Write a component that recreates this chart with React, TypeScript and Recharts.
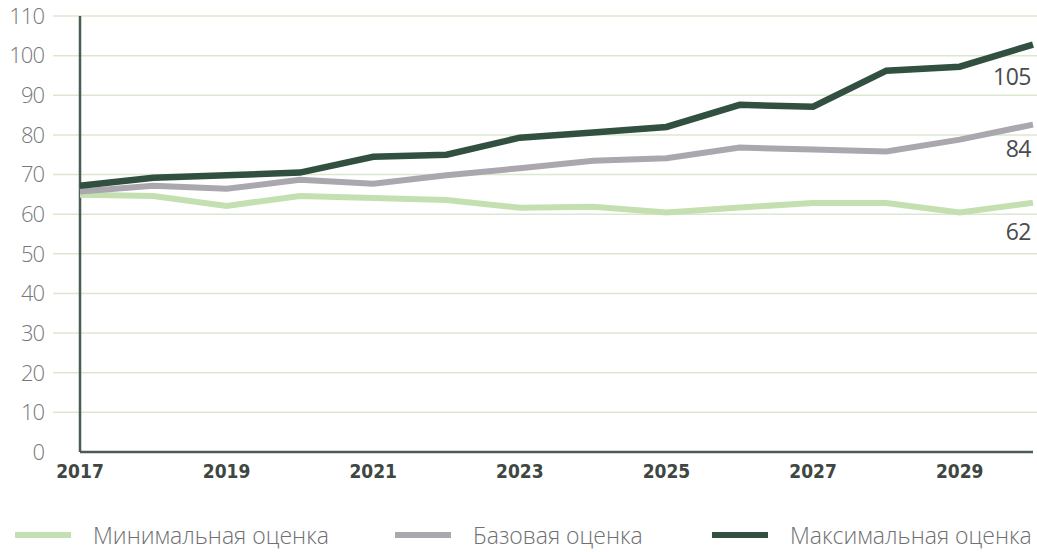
import React from 'react'
import { LineChart, Line, XAxis, YAxis, CartesianGrid, ReferenceLine, LabelList } from 'recharts'

const years = [2017, 2018, 2019, 2020, 2021, 2022, 2023, 2024, 2025, 2026, 2027, 2028, 2029, 2030]
const minimal = [64.9, 64.6, 62.1, 64.6, 64.1, 63.6, 61.6, 61.9, 60.4, 61.7, 62.8, 62.8, 60.4, 62.9]
const base = [65.7, 67.2, 66.4, 68.7, 67.7, 69.8, 71.6, 73.5, 74.1, 76.8, 76.3, 75.8, 78.8, 82.6]
const maximal = [67.2, 69.2, 69.8, 70.5, 74.5, 75.0, 79.3, 80.6, 82.0, 87.6, 87.1, 96.2, 97.2, 102.8]

const xTicks = [2017, 2019, 2021, 2023, 2025, 2027, 2029]
const yTicks = [0, 10, 20, 30, 40, 50, 60, 70, 80, 90, 100, 110]
const gridValues = [10, 20, 30, 40, 50, 60, 70, 80, 90, 100, 110]

const seriesNames = ['Минимальная оценка', 'Базовая оценка', 'Максимальная оценка']
const endLabels = ['62', '84', '105']

const data = years.map((year, i) => ({
  year,
  minimal: minimal[i],
  base: base[i],
  maximal: maximal[i],
}))

const colors = ['#c4e0b1', '#aaa7ae', '#31503f']
const keys = ['minimal', 'base', 'maximal']
const labelDy = [37, 32, 40]
const legendLeft = [15, 395, 712]

const lightFont = '"Open Sans", sans-serif'

function endLabel(text: string, dy: number) {
  return (props: any) => {
    if (props.index !== years.length - 1) return null
    return (
      <text
        x={Number(props.x) - 2}
        y={Number(props.y) + dy}
        textAnchor="end"
        fill="#4a4b4d"
        fontSize={23}
        fontFamily={lightFont}
        letterSpacing={-0.5}
      >
        {text}
      </text>
    )
  }
}

export default function App() {
  return (
    <div style={{ position: 'relative', width: 1037, height: 552, overflow: 'hidden', background: '#fff' }}>
      <style>{'body{margin:0}'}</style>
      <LineChart width={1037} height={552} data={data} margin={{ top: 16, right: 0, bottom: 60, left: 0 }}>
        <CartesianGrid vertical={false} stroke="#dbe8cf" strokeWidth={1.5} horizontalValues={gridValues} />
        <XAxis
          dataKey="year"
          type="number"
          domain={[2017, 2030]}
          ticks={xTicks}
          padding={{ left: 27, right: 4 }}
          axisLine={false}
          tickLine={false}
          tickSize={0}
          tickMargin={13}
          height={40}
          tick={{ fill: '#3e4742', fontSize: 19, fontWeight: 700, fontFamily: '"Liberation Sans Narrow", "DejaVu Sans Condensed", sans-serif' }}
        />
        <YAxis
          domain={[0, 110]}
          ticks={yTicks}
          width={53}
          axisLine={false}
          tickLine={false}
          tickSize={0}
          tickMargin={9}
          tick={{ fill: '#77787b', fontSize: 22, fontWeight: 300, fontFamily: lightFont, letterSpacing: -1 }}
        />
        <ReferenceLine x={2017} stroke="#4b5c52" strokeWidth={2.5} />
        <ReferenceLine
          segment={[
            { x: 2017, y: 0 },
            { x: 2030, y: 0 },
          ]}
          stroke="#4b5c52"
          strokeWidth={2.5}
        />
        {keys.map((k, i) => (
          <Line
            key={k}
            dataKey={k}
            name={seriesNames[i]}
            type="linear"
            stroke={colors[i]}
            strokeWidth={i === 2 ? 6.5 : 6}
            dot={false}
            activeDot={false}
            isAnimationActive={false}
          >
            <LabelList dataKey={k} content={endLabel(endLabels[i], labelDy[i])} />
          </Line>
        ))}
      </LineChart>
      {seriesNames.map((name, i) => (
        <div
          key={name}
          style={{
            position: 'absolute',
            left: legendLeft[i],
            top: 521,
            display: 'flex',
            alignItems: 'center',
            whiteSpace: 'nowrap',
            lineHeight: '28px',
          }}
        >
          <span style={{ display: 'inline-block', width: 56, height: 6, background: colors[i], marginRight: 22 }} />
          <span style={{ fontFamily: lightFont, fontWeight: 300, fontSize: 23, color: '#6f7073' }}>{name}</span>
        </div>
      ))}
    </div>
  )
}
